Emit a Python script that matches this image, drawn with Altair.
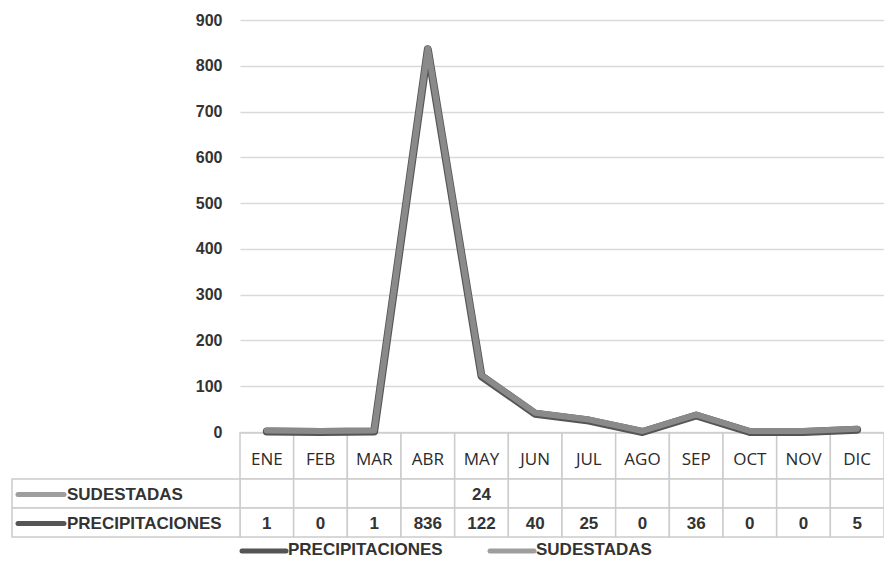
import altair as alt
import pandas as pd

meses = ["ENE", "FEB", "MAR", "ABR", "MAY", "JUN", "JUL", "AGO", "SEP", "OCT", "NOV", "DIC"]
precipitaciones = [1, 0, 1, 836, 122, 40, 25, 0, 36, 0, 0, 5]
sudestadas = [None, None, None, None, 24, None, None, None, None, None, None, None]
series = ["SUDESTADAS", "PRECIPITACIONES"]
y_ticks = [0, 100, 200, 300, 400, 500, 600, 700, 800, 900]

FONT = "Liberation Sans"
HEAD_FONT = "Open Sans"
TXT = "#333333"
DARK = "#555555"
GRAY = "#8a8a8a"
LIGHT = "#9e9e9e"
BORDER = "#cccccc"

df_p = pd.DataFrame({"mes": meses, "valor": precipitaciones})
df_s = pd.DataFrame({"mes": meses, "valor": sudestadas})
df_p["txt"] = df_p["valor"].astype(str)
df_s_txt = df_s.dropna().copy()
df_s_txt["txt"] = df_s_txt["valor"].astype(int).astype(str)
df_m = pd.DataFrame({"mes": meses})
df_series = pd.DataFrame({"serie": series})

xscale = alt.Scale(type="band", domain=meses, paddingInner=0, paddingOuter=0)
x_band = alt.X("mes:N", sort=meses, scale=xscale, axis=None)
x_mid = alt.X("mes:N", sort=meses, scale=xscale, axis=None, bandPosition=0.5)

yq = alt.Y("valor:Q", scale=alt.Scale(domain=[0, 900], nice=False),
           axis=alt.Axis(values=y_ticks, title=None, domain=False, ticks=False,
                         labelPadding=18, labelFontSize=16, labelColor=TXT,
                         labelFont=FONT, labelFontWeight="bold",
                         gridColor="#d9d9d9", gridWidth=1.5))

# rows (pixels relative to plot top)
H_TOP, H_BOT = 413, 459
R1_TOP, R1_BOT = 459, 488
R2_TOP, R2_BOT = 488, 517
LEG_Y = 530


def cells(y0, y1):
    return alt.Chart(df_m).mark_rect(fill="white", stroke=BORDER, strokeWidth=1.5).encode(
        x=x_band, y=alt.value(y0), y2=alt.value(y1))


header_cells = cells(H_TOP, H_BOT)
r1_cells = cells(R1_TOP, R1_BOT)
r2_cells = cells(R2_TOP, R2_BOT)

header_text = alt.Chart(df_m).mark_text(font=HEAD_FONT, fontSize=17, color="#2a2a2a",
                                         baseline="middle").encode(
    x=x_mid, y=alt.value((H_TOP + H_BOT) / 2 + 4), text="mes:N")

r1_text = alt.Chart(df_s_txt).mark_text(font=FONT, fontSize=17, fontWeight="bold",
                                         color=TXT, baseline="middle").encode(
    x=x_mid, y=alt.value((R1_TOP + R1_BOT) / 2 + 1), text="txt:N")
r2_text = alt.Chart(df_p).mark_text(font=FONT, fontSize=17, fontWeight="bold",
                                     color=TXT, baseline="middle").encode(
    x=x_mid, y=alt.value((R2_TOP + R2_BOT) / 2 + 1), text="txt:N")


def label_cell(name, y0, y1, col):
    d = df_series[df_series["serie"] == name]
    rect = alt.Chart(d).mark_rect(fill="white", stroke=BORDER, strokeWidth=1.5).encode(
        x=alt.value(-228), x2=alt.value(0), y=alt.value(y0), y2=alt.value(y1))
    sym = alt.Chart(d).mark_rule(color=col, strokeWidth=5, strokeCap="round").encode(
        x=alt.value(-222), x2=alt.value(-176), y=alt.value((y0 + y1) / 2 + 1))
    txt = alt.Chart(d).mark_text(font=FONT, fontSize=17, fontWeight="bold", color=TXT,
                                 align="left", baseline="middle").encode(
        x=alt.value(-173), y=alt.value((y0 + y1) / 2 + 1), text="serie:N")
    return rect + sym + txt


lab1 = label_cell("SUDESTADAS", R1_TOP, R1_BOT, LIGHT)
lab2 = label_cell("PRECIPITACIONES", R2_TOP, R2_BOT, DARK)


def legend_item(name, x0, col):
    d = df_series[df_series["serie"] == name]
    sym = alt.Chart(d).mark_rule(color=col, strokeWidth=5, strokeCap="round").encode(
        x=alt.value(x0 + 2), x2=alt.value(x0 + 46), y=alt.value(LEG_Y + 1))
    txt = alt.Chart(d).mark_text(font=FONT, fontSize=17, fontWeight="bold", color=TXT,
                                 align="left", baseline="middle").encode(
        x=alt.value(x0 + 48), y=alt.value(LEG_Y), text="serie:N")
    return sym + txt


leg1 = legend_item("PRECIPITACIONES", 0, DARK)
leg2 = legend_item("SUDESTADAS", 248, LIGHT)

line_p = alt.Chart(df_p).mark_line(color=DARK, strokeWidth=8, strokeJoin="round",
                                   strokeCap="round").encode(x=x_mid, y=yq)
line_p_hi = alt.Chart(df_p).mark_line(color=GRAY, strokeWidth=6, strokeJoin="round",
                                      strokeCap="round", yOffset=-1).encode(x=x_mid, y=yq)
line_s = alt.Chart(df_s).mark_line(color=LIGHT, strokeWidth=5).encode(x=x_mid, y=yq)

chart = alt.layer(
    header_cells, r1_cells, r2_cells, header_text, r1_text, r2_text,
    lab1, lab2, leg1, leg2, line_p, line_p_hi, line_s
).properties(
    width=644, height=412,
    background="white",
    autosize=alt.AutoSizeParams(type="none"),
    padding={"left": 232, "top": 12, "right": 0, "bottom": 131},
).configure_view(stroke=None)

chart.save("out.html", embed_options={"renderer": "svg", "actions": False})
